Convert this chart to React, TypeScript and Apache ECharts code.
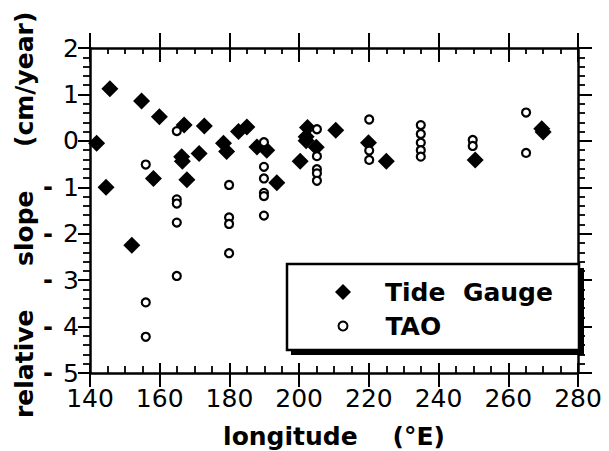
import React, { useEffect, useRef } from "react";
import * as echarts from "echarts";

// Tide gauge stations: longitude (°E) and relative slope (cm/year)
const tideLon = [141.9, 145.7, 144.6, 154.8, 152.0, 159.9, 158.2, 167.0, 166.3, 166.5, 167.8, 171.3, 172.8, 178.3, 179.2, 182.6, 185.0, 187.9, 190.7, 193.6, 200.3, 202.4, 202.0, 202.0, 204.9, 210.5, 219.9, 225.0, 250.5, 269.6, 270.0];
const tideSlope = [-0.05, 1.12, -1.0, 0.86, -2.25, 0.52, -0.81, 0.34, -0.34, -0.44, -0.84, -0.27, 0.32, -0.05, -0.23, 0.2, 0.3, -0.13, -0.2, -0.9, -0.44, 0.29, 0.09, 0.0, -0.14, 0.23, -0.04, -0.44, -0.41, 0.26, 0.19];

// TAO moorings
const taoLon = [164.9, 156.0, 164.9, 164.9, 164.9, 164.9, 156.0, 156.0, 179.9, 179.9, 179.9, 179.9, 189.9, 189.9, 189.9, 189.9, 189.9, 189.9, 205.1, 205.1, 205.1, 205.1, 205.1, 220.1, 220.1, 220.1, 234.9, 234.9, 234.9, 234.9, 234.9, 249.8, 249.8, 265.1, 265.1];
const taoSlope = [0.21, -0.51, -1.26, -1.35, -1.76, -2.91, -3.48, -4.22, -0.95, -1.65, -1.79, -2.42, -0.03, -0.56, -0.81, -1.12, -1.19, -1.61, 0.25, -0.33, -0.61, -0.7, -0.86, 0.46, -0.21, -0.41, 0.34, 0.15, -0.04, -0.2, -0.34, 0.02, -0.11, 0.61, -0.26];

const xMin = 140, xMax = 280, xStep = 20;
const yMin = -5, yMax = 2, yStep = 1;
// y tick values that carry a detached minus sign in the original figure
const negTicks = [-1, -2, -3, -4, -5];

const seriesNames = ["Tide\u00A0\u00A0Gauge", "TAO"];
const xTitle = "longitude\u00A0\u00A0\u00A0\u00A0(°E)";
const yTitle = "relative\u00A0\u00A0\u00A0\u00A0\u00A0slope\u00A0\u00A0\u00A0\u00A0\u00A0(cm/year)\u00A0";

const BLACK = "#000";
const FONT = "DejaVu Sans";

export default function App() {
  const ref = useRef<HTMLDivElement>(null);
  useEffect(() => {
    if (!ref.current) return;
    const chart = echarts.init(ref.current, null, { renderer: "svg" });
    const baseX = {
      type: "value",
      min: xMin,
      max: xMax,
      interval: xStep,
      splitLine: { show: false },
      gridIndex: 0,
    };
    const baseY = {
      type: "value",
      min: yMin,
      max: yMax,
      interval: yStep,
      splitLine: { show: false },
      gridIndex: 0,
    };
    const line = { show: true, onZero: false, lineStyle: { color: BLACK, width: 2.5 } };
    const noLine = { show: false, onZero: false };
    const tickStyle = { color: BLACK, width: 2 };
    const boxRects = [
      { type: "rect", z: 5, shape: { x: 291, y: 268, width: 293, height: 87 }, style: { fill: BLACK } },
      { type: "rect", z: 6, shape: { x: 287, y: 264, width: 292, height: 86 }, style: { fill: "#fff", stroke: BLACK, lineWidth: 2.5 } },
    ];
    chart.setOption({
      animation: false,
      backgroundColor: "#fff",
      grid: { left: 90, right: 31, top: 48, bottom: 78, containLabel: false, outerBoundsMode: "none" },
      xAxis: [
        {
          ...baseX,
          position: "bottom",
          axisLine: line,
          axisTick: { show: true, inside: true, length: 10, lineStyle: tickStyle },
          minorTick: { show: true, splitNumber: 4, length: 7, lineStyle: { color: BLACK, width: 1.8 } },
          axisLabel: { color: BLACK, fontSize: 25, fontFamily: FONT, margin: 14, lineHeight: 22 },
          name: xTitle,
          nameLocation: "middle",
          nameGap: 51,
          nameMoveOverlap: false,
          nameTextStyle: { color: BLACK, fontSize: 25, fontWeight: "bold", fontFamily: FONT },
        },
        {
          ...baseX,
          position: "bottom",
          axisLine: noLine,
          axisTick: { show: true, inside: false, length: 14, lineStyle: tickStyle },
          axisLabel: { show: false },
        },
        {
          ...baseX,
          position: "top",
          axisLine: line,
          axisTick: { show: true, inside: true, length: 14, lineStyle: tickStyle },
          minorTick: { show: true, splitNumber: 4, length: 6, lineStyle: { color: BLACK, width: 1.8 } },
          axisLabel: { show: false },
        },
        {
          ...baseX,
          position: "top",
          axisLine: noLine,
          axisTick: { show: true, inside: false, length: 15, lineStyle: tickStyle },
          axisLabel: { show: false },
        },
      ],
      yAxis: [
        {
          ...baseY,
          position: "left",
          axisLine: line,
          axisTick: { show: true, inside: false, length: 12, lineStyle: tickStyle },
          minorTick: { show: true, splitNumber: 5, length: 7, lineStyle: { color: BLACK, width: 1.8 } },
          axisLabel: {
            color: BLACK,
            fontSize: 25,
            fontFamily: FONT,
            margin: 11,
            lineHeight: 20,
            formatter: (v: number) => String(Math.abs(Number(v))),
          },
          name: yTitle,
          nameLocation: "middle",
          nameGap: 53,
          nameMoveOverlap: false,
          nameTextStyle: { color: BLACK, fontSize: 25, fontWeight: "bold", fontFamily: FONT },
        },
        {
          ...baseY,
          position: "right",
          axisLine: line,
          axisTick: { show: true, inside: false, length: 14, lineStyle: tickStyle },
          minorTick: { show: true, splitNumber: 5, length: 7, lineStyle: { color: BLACK, width: 1.8 } },
          axisLabel: { show: false },
        },
      ],
      legend: [
        {
          z: 20,
          data: [{ name: seriesNames[0], icon: "diamond" }],
          left: 335,
          top: 278,
          padding: 0,
          itemWidth: 16,
          itemHeight: 16,
          selectedMode: false,
          textStyle: { color: BLACK, fontSize: 25, fontWeight: "bold", fontFamily: FONT, lineHeight: 28, padding: [0, 0, 0, 29] },
        },
        {
          z: 20,
          data: [{ name: seriesNames[1], icon: "circle" }],
          left: 337.5,
          top: 312,
          padding: 0,
          itemWidth: 9,
          itemHeight: 9,
          selectedMode: false,
          textStyle: { color: BLACK, fontSize: 25, fontWeight: "bold", fontFamily: FONT, lineHeight: 28, padding: [0, 0, 0, 33] },
        },
      ],
      graphic: boxRects,
      series: [
        {
          type: "scatter",
          name: seriesNames[0],
          xAxisIndex: 0,
          yAxisIndex: 0,
          symbol: "diamond",
          symbolSize: 17,
          itemStyle: { color: BLACK, opacity: 1 },
          data: tideLon.map((x, i) => [x, tideSlope[i]]),
        },
        {
          type: "scatter",
          name: seriesNames[1],
          xAxisIndex: 0,
          yAxisIndex: 0,
          symbol: "circle",
          symbolSize: 8,
          itemStyle: { color: "#fff", borderColor: BLACK, borderWidth: 2.2, opacity: 1 },
          data: taoLon.map((x, i) => [x, taoSlope[i]]),
        },
      ],
    });
    // detached minus signs of the negative y tick labels, placed through the y scale
    const minusMarks = negTicks.map((v) => ({
      type: "text",
      z: 100,
      x: 48,
      y: chart.convertToPixel({ yAxisIndex: 0 }, v) as number,
      style: {
        text: "-",
        fontSize: 24,
        fontWeight: "bold",
        fontFamily: FONT,
        fill: BLACK,
        align: "center",
        verticalAlign: "middle",
      },
    }));
    chart.setOption({ graphic: [...boxRects, ...minusMarks] });
    return () => chart.dispose();
  }, []);
  return <div ref={ref} style={{ width: 609, height: 451, position: "absolute", left: 0, top: 0 }} />;
}
